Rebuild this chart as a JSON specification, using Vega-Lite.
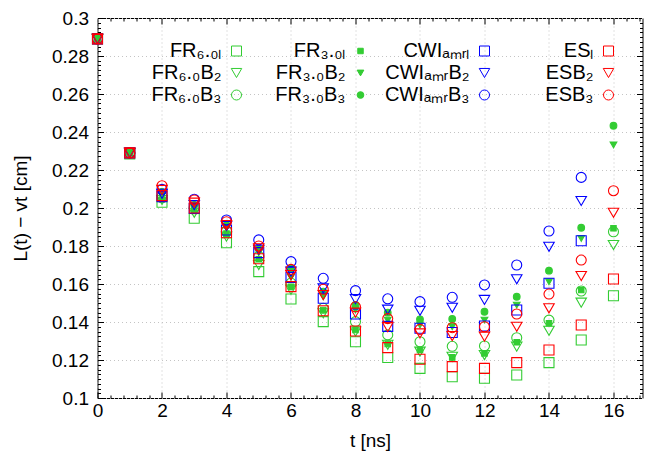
{
 "$schema": "https://vega.github.io/schema/vega-lite/v6.json",
 "width": 545, "height": 380,
 "autosize": {"type": "none"},
 "padding": {"left": 97.5, "top": 18, "right": 2.5, "bottom": 65},
 "background": "white",
 "config": {
  "font": "Liberation Sans",
  "view": {"stroke": "black", "strokeWidth": 1},
  "axis": {"labelFont": "Liberation Sans", "labelFontSize": 19, "labelColor": "black", "titleFont": "Liberation Sans", "titleFontSize": 19, "titleFontWeight": "normal", "titleColor": "black", "domain": false, "tickColor": "black", "gridColor": "#c4c4c4", "gridDash": [1, 3], "labelFlush": false, "labelOverlap": false},
  "legend": {"orient": "none", "legendX": 129, "legendY": 23, "columns": 4, "direction": "horizontal", "labelAlign": "right", "labelOffset": -25, "labelFontSize": 20, "labelFont": "Liberation Sans", "labelColor": "black", "rowPadding": 2, "columnPadding": 16, "gridAlign": "all", "symbolStrokeWidth": 1, "labelLimit": 0, "padding": 0}
 },
 "datasets": {
  "pts": [
{"t":0,"v":0.289,"s":"FR₆.₀ₗ"},{"t":1,"v":0.2285,"s":"FR₆.₀ₗ"},{"t":2,"v":0.203,"s":"FR₆.₀ₗ"},{"t":3,"v":0.1946,"s":"FR₆.₀ₗ"},{"t":4,"v":0.1817,"s":"FR₆.₀ₗ"},{"t":5,"v":0.1665,"s":"FR₆.₀ₗ"},{"t":6,"v":0.1521,"s":"FR₆.₀ₗ"},{"t":7,"v":0.1402,"s":"FR₆.₀ₗ"},{"t":8,"v":0.1296,"s":"FR₆.₀ₗ"},{"t":9,"v":0.1213,"s":"FR₆.₀ₗ"},{"t":10,"v":0.1156,"s":"FR₆.₀ₗ"},{"t":11,"v":0.1112,"s":"FR₆.₀ₗ"},{"t":12,"v":0.1104,"s":"FR₆.₀ₗ"},{"t":13,"v":0.1121,"s":"FR₆.₀ₗ"},{"t":14,"v":0.1186,"s":"FR₆.₀ₗ"},{"t":15,"v":0.1305,"s":"FR₆.₀ₗ"},{"t":16,"v":0.1538,"s":"FR₆.₀ₗ"},
{"t":0,"v":0.289,"s":"FR₆.₀B₂"},{"t":1,"v":0.229,"s":"FR₆.₀B₂"},{"t":2,"v":0.2042,"s":"FR₆.₀B₂"},{"t":3,"v":0.1975,"s":"FR₆.₀B₂"},{"t":4,"v":0.1849,"s":"FR₆.₀B₂"},{"t":5,"v":0.170,"s":"FR₆.₀B₂"},{"t":6,"v":0.157,"s":"FR₆.₀B₂"},{"t":7,"v":0.1446,"s":"FR₆.₀B₂"},{"t":8,"v":0.135,"s":"FR₆.₀B₂"},{"t":9,"v":0.128,"s":"FR₆.₀B₂"},{"t":10,"v":0.1244,"s":"FR₆.₀B₂"},{"t":11,"v":0.1217,"s":"FR₆.₀B₂"},{"t":12,"v":0.1226,"s":"FR₆.₀B₂"},{"t":13,"v":0.127,"s":"FR₆.₀B₂"},{"t":14,"v":0.1354,"s":"FR₆.₀B₂"},{"t":15,"v":0.1502,"s":"FR₆.₀B₂"},{"t":16,"v":0.1805,"s":"FR₆.₀B₂"},
{"t":0,"v":0.289,"s":"FR₆.₀B₃"},{"t":1,"v":0.229,"s":"FR₆.₀B₃"},{"t":2,"v":0.206,"s":"FR₆.₀B₃"},{"t":3,"v":0.2005,"s":"FR₆.₀B₃"},{"t":4,"v":0.188,"s":"FR₆.₀B₃"},{"t":5,"v":0.1745,"s":"FR₆.₀B₃"},{"t":6,"v":0.1605,"s":"FR₆.₀B₃"},{"t":7,"v":0.1472,"s":"FR₆.₀B₃"},{"t":8,"v":0.1402,"s":"FR₆.₀B₃"},{"t":9,"v":0.1332,"s":"FR₆.₀B₃"},{"t":10,"v":0.1296,"s":"FR₆.₀B₃"},{"t":11,"v":0.1272,"s":"FR₆.₀B₃"},{"t":12,"v":0.1274,"s":"FR₆.₀B₃"},{"t":13,"v":0.1317,"s":"FR₆.₀B₃"},{"t":14,"v":0.141,"s":"FR₆.₀B₃"},{"t":15,"v":0.1563,"s":"FR₆.₀B₃"},{"t":16,"v":0.1875,"s":"FR₆.₀B₃"},
{"t":0,"v":0.289,"s":"FR₃.₀ₗ"},{"t":1,"v":0.229,"s":"FR₃.₀ₗ"},{"t":2,"v":0.2045,"s":"FR₃.₀ₗ"},{"t":3,"v":0.1985,"s":"FR₃.₀ₗ"},{"t":4,"v":0.1865,"s":"FR₃.₀ₗ"},{"t":5,"v":0.173,"s":"FR₃.₀ₗ"},{"t":6,"v":0.1585,"s":"FR₃.₀ₗ"},{"t":7,"v":0.1463,"s":"FR₃.₀ₗ"},{"t":8,"v":0.1358,"s":"FR₃.₀ₗ"},{"t":9,"v":0.1284,"s":"FR₃.₀ₗ"},{"t":10,"v":0.1253,"s":"FR₃.₀ₗ"},{"t":11,"v":0.1214,"s":"FR₃.₀ₗ"},{"t":12,"v":0.1235,"s":"FR₃.₀ₗ"},{"t":13,"v":0.1293,"s":"FR₃.₀ₗ"},{"t":14,"v":0.1393,"s":"FR₃.₀ₗ"},{"t":15,"v":0.1568,"s":"FR₃.₀ₗ"},{"t":16,"v":0.1893,"s":"FR₃.₀ₗ"},
{"t":0,"v":0.289,"s":"FR₃.₀B₂"},{"t":1,"v":0.229,"s":"FR₃.₀B₂"},{"t":2,"v":0.2074,"s":"FR₃.₀B₂"},{"t":3,"v":0.201,"s":"FR₃.₀B₂"},{"t":4,"v":0.1895,"s":"FR₃.₀B₂"},{"t":5,"v":0.1765,"s":"FR₃.₀B₂"},{"t":6,"v":0.1635,"s":"FR₃.₀B₂"},{"t":7,"v":0.1533,"s":"FR₃.₀B₂"},{"t":8,"v":0.1463,"s":"FR₃.₀B₂"},{"t":9,"v":0.141,"s":"FR₃.₀B₂"},{"t":10,"v":0.1384,"s":"FR₃.₀B₂"},{"t":11,"v":0.1375,"s":"FR₃.₀B₂"},{"t":12,"v":0.141,"s":"FR₃.₀B₂"},{"t":13,"v":0.1489,"s":"FR₃.₀B₂"},{"t":14,"v":0.1612,"s":"FR₃.₀B₂"},{"t":15,"v":0.184,"s":"FR₃.₀B₂"},{"t":16,"v":0.2332,"s":"FR₃.₀B₂"},
{"t":0,"v":0.289,"s":"FR₃.₀B₃"},{"t":1,"v":0.229,"s":"FR₃.₀B₃"},{"t":2,"v":0.2085,"s":"FR₃.₀B₃"},{"t":3,"v":0.2016,"s":"FR₃.₀B₃"},{"t":4,"v":0.191,"s":"FR₃.₀B₃"},{"t":5,"v":0.1785,"s":"FR₃.₀B₃"},{"t":6,"v":0.1682,"s":"FR₃.₀B₃"},{"t":7,"v":0.156,"s":"FR₃.₀B₃"},{"t":8,"v":0.149,"s":"FR₃.₀B₃"},{"t":9,"v":0.1449,"s":"FR₃.₀B₃"},{"t":10,"v":0.1414,"s":"FR₃.₀B₃"},{"t":11,"v":0.1416,"s":"FR₃.₀B₃"},{"t":12,"v":0.1454,"s":"FR₃.₀B₃"},{"t":13,"v":0.1533,"s":"FR₃.₀B₃"},{"t":14,"v":0.167,"s":"FR₃.₀B₃"},{"t":15,"v":0.1896,"s":"FR₃.₀B₃"},{"t":16,"v":0.2433,"s":"FR₃.₀B₃"},
{"t":0,"v":0.289,"s":"CWIₐₘᵣₗ"},{"t":1,"v":0.229,"s":"CWIₐₘᵣₗ"},{"t":2,"v":0.206,"s":"CWIₐₘᵣₗ"},{"t":3,"v":0.1998,"s":"CWIₐₘᵣₗ"},{"t":4,"v":0.1884,"s":"CWIₐₘᵣₗ"},{"t":5,"v":0.1765,"s":"CWIₐₘᵣₗ"},{"t":6,"v":0.1635,"s":"CWIₐₘᵣₗ"},{"t":7,"v":0.1525,"s":"CWIₐₘᵣₗ"},{"t":8,"v":0.1442,"s":"CWIₐₘᵣₗ"},{"t":9,"v":0.1377,"s":"CWIₐₘᵣₗ"},{"t":10,"v":0.1367,"s":"CWIₐₘᵣₗ"},{"t":11,"v":0.1345,"s":"CWIₐₘᵣₗ"},{"t":12,"v":0.1379,"s":"CWIₐₘᵣₗ"},{"t":13,"v":0.1463,"s":"CWIₐₘᵣₗ"},{"t":14,"v":0.1604,"s":"CWIₐₘᵣₗ"},{"t":15,"v":0.1828,"s":"CWIₐₘᵣₗ"},
{"t":0,"v":0.289,"s":"CWIₐₘᵣB₂"},{"t":1,"v":0.229,"s":"CWIₐₘᵣB₂"},{"t":2,"v":0.2075,"s":"CWIₐₘᵣB₂"},{"t":3,"v":0.2015,"s":"CWIₐₘᵣB₂"},{"t":4,"v":0.1905,"s":"CWIₐₘᵣB₂"},{"t":5,"v":0.178,"s":"CWIₐₘᵣB₂"},{"t":6,"v":0.1665,"s":"CWIₐₘᵣB₂"},{"t":7,"v":0.1577,"s":"CWIₐₘᵣB₂"},{"t":8,"v":0.152,"s":"CWIₐₘᵣB₂"},{"t":9,"v":0.1465,"s":"CWIₐₘᵣB₂"},{"t":10,"v":0.1459,"s":"CWIₐₘᵣB₂"},{"t":11,"v":0.1475,"s":"CWIₐₘᵣB₂"},{"t":12,"v":0.1516,"s":"CWIₐₘᵣB₂"},{"t":13,"v":0.1625,"s":"CWIₐₘᵣB₂"},{"t":14,"v":0.1796,"s":"CWIₐₘᵣB₂"},{"t":15,"v":0.2037,"s":"CWIₐₘᵣB₂"},
{"t":0,"v":0.289,"s":"CWIₐₘᵣB₃"},{"t":1,"v":0.229,"s":"CWIₐₘᵣB₃"},{"t":2,"v":0.2098,"s":"CWIₐₘᵣB₃"},{"t":3,"v":0.2046,"s":"CWIₐₘᵣB₃"},{"t":4,"v":0.1937,"s":"CWIₐₘᵣB₃"},{"t":5,"v":0.1832,"s":"CWIₐₘᵣB₃"},{"t":6,"v":0.1718,"s":"CWIₐₘᵣB₃"},{"t":7,"v":0.163,"s":"CWIₐₘᵣB₃"},{"t":8,"v":0.1565,"s":"CWIₐₘᵣB₃"},{"t":9,"v":0.1522,"s":"CWIₐₘᵣB₃"},{"t":10,"v":0.1507,"s":"CWIₐₘᵣB₃"},{"t":11,"v":0.153,"s":"CWIₐₘᵣB₃"},{"t":12,"v":0.1595,"s":"CWIₐₘᵣB₃"},{"t":13,"v":0.170,"s":"CWIₐₘᵣB₃"},{"t":14,"v":0.1879,"s":"CWIₐₘᵣB₃"},{"t":15,"v":0.2161,"s":"CWIₐₘᵣB₃"},
{"t":0,"v":0.289,"s":"ESₗ"},{"t":1,"v":0.229,"s":"ESₗ"},{"t":2,"v":0.2065,"s":"ESₗ"},{"t":3,"v":0.2,"s":"ESₗ"},{"t":4,"v":0.187,"s":"ESₗ"},{"t":5,"v":0.1733,"s":"ESₗ"},{"t":6,"v":0.1586,"s":"ESₗ"},{"t":7,"v":0.1459,"s":"ESₗ"},{"t":8,"v":0.1353,"s":"ESₗ"},{"t":9,"v":0.1265,"s":"ESₗ"},{"t":10,"v":0.1204,"s":"ESₗ"},{"t":11,"v":0.1165,"s":"ESₗ"},{"t":12,"v":0.1156,"s":"ESₗ"},{"t":13,"v":0.1186,"s":"ESₗ"},{"t":14,"v":0.1253,"s":"ESₗ"},{"t":15,"v":0.1384,"s":"ESₗ"},{"t":16,"v":0.1626,"s":"ESₗ"},
{"t":0,"v":0.289,"s":"ESB₂"},{"t":1,"v":0.229,"s":"ESB₂"},{"t":2,"v":0.2095,"s":"ESB₂"},{"t":3,"v":0.2028,"s":"ESB₂"},{"t":4,"v":0.191,"s":"ESB₂"},{"t":5,"v":0.1788,"s":"ESB₂"},{"t":6,"v":0.1647,"s":"ESB₂"},{"t":7,"v":0.1542,"s":"ESB₂"},{"t":8,"v":0.1449,"s":"ESB₂"},{"t":9,"v":0.1373,"s":"ESB₂"},{"t":10,"v":0.134,"s":"ESB₂"},{"t":11,"v":0.1326,"s":"ESB₂"},{"t":12,"v":0.1323,"s":"ESB₂"},{"t":13,"v":0.1375,"s":"ESB₂"},{"t":14,"v":0.1472,"s":"ESB₂"},{"t":15,"v":0.1642,"s":"ESB₂"},{"t":16,"v":0.1975,"s":"ESB₂"},
{"t":0,"v":0.289,"s":"ESB₃"},{"t":1,"v":0.229,"s":"ESB₃"},{"t":2,"v":0.2117,"s":"ESB₃"},{"t":3,"v":0.2042,"s":"ESB₃"},{"t":4,"v":0.1928,"s":"ESB₃"},{"t":5,"v":0.18,"s":"ESB₃"},{"t":6,"v":0.1677,"s":"ESB₃"},{"t":7,"v":0.1572,"s":"ESB₃"},{"t":8,"v":0.148,"s":"ESB₃"},{"t":9,"v":0.1418,"s":"ESB₃"},{"t":10,"v":0.1361,"s":"ESB₃"},{"t":11,"v":0.137,"s":"ESB₃"},{"t":12,"v":0.1375,"s":"ESB₃"},{"t":13,"v":0.1442,"s":"ESB₃"},{"t":14,"v":0.1547,"s":"ESB₃"},{"t":15,"v":0.1726,"s":"ESB₃"},{"t":16,"v":0.2091,"s":"ESB₃"}
  ]
 },
 "data": {"name": "pts"},
 "layer": [
  {
   "mark": {"type": "point", "opacity": 0},
   "encoding": {
    "x": {"field": "t", "type": "quantitative", "axis": {"orient": "bottom", "values": [0.4,0.8,1.2,1.6,2.4,2.8,3.2,3.6,4.4,4.8,5.2,5.6,6.4,6.8,7.2,7.6,8.4,8.8,9.2,9.6,10.4,10.8,11.2,11.6,12.4,12.8,13.2,13.6,14.4,14.8,15.2,15.6,16.4,16.8], "labels": false, "grid": false, "tickSize": -3, "title": null}},
    "y": {"field": "v", "type": "quantitative", "axis": {"orient": "left", "values": [0.1025,0.105,0.1075,0.11,0.1125,0.115,0.1175,0.1225,0.125,0.1275,0.13,0.1325,0.135,0.1375,0.1425,0.145,0.1475,0.15,0.1525,0.155,0.1575,0.1625,0.165,0.1675,0.17,0.1725,0.175,0.1775,0.1825,0.185,0.1875,0.19,0.1925,0.195,0.1975,0.2025,0.205,0.2075,0.21,0.2125,0.215,0.2175,0.2225,0.225,0.2275,0.23,0.2325,0.235,0.2375,0.2425,0.245,0.2475,0.25,0.2525,0.255,0.2575,0.2625,0.265,0.2675,0.27,0.2725,0.275,0.2775,0.2825,0.285,0.2875,0.29,0.2925,0.295,0.2975], "labels": false, "grid": false, "tickSize": -3, "title": null}}
   }
  },
  {
   "mark": {"type": "point", "opacity": 0},
   "encoding": {
    "x": {"field": "t", "type": "quantitative", "axis": {"orient": "top", "values": [0.4,0.8,1.2,1.6,2.4,2.8,3.2,3.6,4.4,4.8,5.2,5.6,6.4,6.8,7.2,7.6,8.4,8.8,9.2,9.6,10.4,10.8,11.2,11.6,12.4,12.8,13.2,13.6,14.4,14.8,15.2,15.6,16.4,16.8], "labels": false, "grid": false, "tickSize": -3, "title": null}},
    "y": {"field": "v", "type": "quantitative", "axis": {"orient": "right", "values": [0.1025,0.105,0.1075,0.11,0.1125,0.115,0.1175,0.1225,0.125,0.1275,0.13,0.1325,0.135,0.1375,0.1425,0.145,0.1475,0.15,0.1525,0.155,0.1575,0.1625,0.165,0.1675,0.17,0.1725,0.175,0.1775,0.1825,0.185,0.1875,0.19,0.1925,0.195,0.1975,0.2025,0.205,0.2075,0.21,0.2125,0.215,0.2175,0.2225,0.225,0.2275,0.23,0.2325,0.235,0.2375,0.2425,0.245,0.2475,0.25,0.2525,0.255,0.2575,0.2625,0.265,0.2675,0.27,0.2725,0.275,0.2775,0.2825,0.285,0.2875,0.29,0.2925,0.295,0.2975], "labels": false, "grid": false, "tickSize": -3, "title": null}}
   }
  },
  {
   "mark": {"type": "point", "opacity": 0},
   "encoding": {
    "x": {"field": "t", "type": "quantitative", "axis": {"orient": "top", "values": [2,4,6,8,10,12,14,16], "labels": false, "grid": false, "tickSize": -6, "title": null}},
    "y": {"field": "v", "type": "quantitative", "axis": {"orient": "right", "values": [0.12,0.14,0.16,0.18,0.2,0.22,0.24,0.26,0.28], "labels": false, "grid": false, "tickSize": -6, "title": null}}
   }
  },
  {
   "mark": {"type": "point", "opacity": 1, "strokeWidth": 1.1},
   "encoding": {
    "x": {"field": "t", "type": "quantitative", "scale": {"domain": [0, 16.9], "nice": false, "zero": false}, "axis": {"orient": "bottom", "values": [0,2,4,6,8,10,12,14,16], "grid": true, "tickSize": -6, "labelPadding": 9, "title": "t [ns]", "titlePadding": 11}},
    "y": {"field": "v", "type": "quantitative", "scale": {"domain": [0.1, 0.3], "nice": false, "zero": false}, "axis": {"orient": "left", "values": [0.1,0.12,0.14,0.16,0.18,0.2,0.22,0.24,0.26,0.28,0.3], "format": "~g", "grid": true, "tickSize": -6, "labelPadding": 15, "title": "L(t) − vt [cm]", "titlePadding": 21}},
    "stroke": {"field": "s", "type": "nominal", "legend": {"title": null},
      "scale": {"domain": ["FR₆.₀ₗ","FR₃.₀ₗ","CWIₐₘᵣₗ","ESₗ","FR₆.₀B₂","FR₃.₀B₂","CWIₐₘᵣB₂","ESB₂","FR₆.₀B₃","FR₃.₀B₃","CWIₐₘᵣB₃","ESB₃"],
                "range": ["#33cc33","#33cc33","#0000ff","#ff0000","#33cc33","#33cc33","#0000ff","#ff0000","#33cc33","#33cc33","#0000ff","#ff0000"]}},
    "fill": {"field": "s", "type": "nominal", "legend": {"title": null},
      "scale": {"domain": ["FR₆.₀ₗ","FR₃.₀ₗ","CWIₐₘᵣₗ","ESₗ","FR₆.₀B₂","FR₃.₀B₂","CWIₐₘᵣB₂","ESB₂","FR₆.₀B₃","FR₃.₀B₃","CWIₐₘᵣB₃","ESB₃"],
                "range": ["transparent","#33cc33","transparent","transparent","transparent","#33cc33","transparent","transparent","transparent","#33cc33","transparent","transparent"]}},
    "shape": {"field": "s", "type": "nominal", "legend": {"title": null},
      "scale": {"domain": ["FR₆.₀ₗ","FR₃.₀ₗ","CWIₐₘᵣₗ","ESₗ","FR₆.₀B₂","FR₃.₀B₂","CWIₐₘᵣB₂","ESB₂","FR₆.₀B₃","FR₃.₀B₃","CWIₐₘᵣB₃","ESB₃"],
                "range": ["square","square","square","square","triangle-down","triangle-down","triangle-down","triangle-down","circle","circle","circle","circle"]}},
    "size": {"field": "s", "type": "nominal", "legend": {"title": null},
      "scale": {"type": "ordinal", "domain": ["FR₆.₀ₗ","FR₃.₀ₗ","CWIₐₘᵣₗ","ESₗ","FR₆.₀B₂","FR₃.₀B₂","CWIₐₘᵣB₂","ESB₂","FR₆.₀B₃","FR₃.₀B₃","CWIₐₘᵣB₃","ESB₃"],
                "range": [100,30,100,100,110,45,110,110,100,45,100,100]}}
   }
  }
 ],
 "resolve": {"axis": {"x": "independent", "y": "independent"}}
}
